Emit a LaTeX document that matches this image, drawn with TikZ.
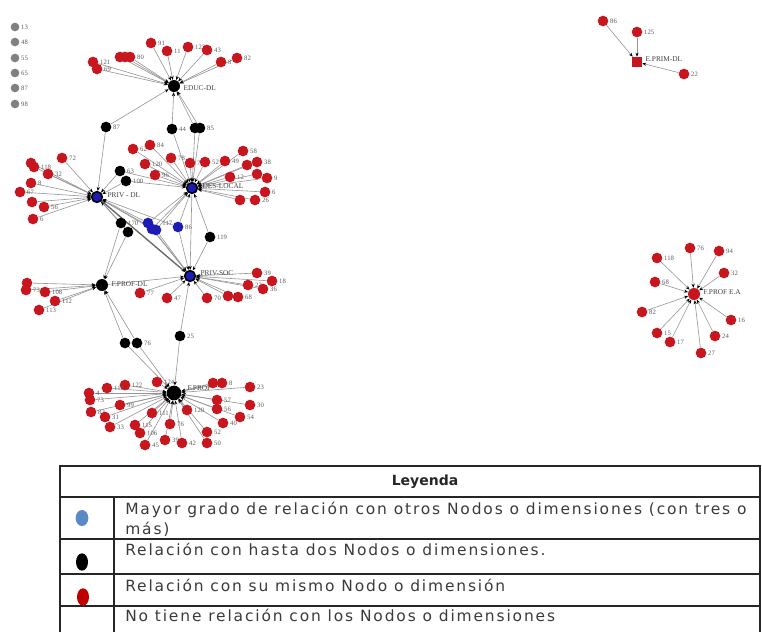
\documentclass[tikz,border=0pt]{standalone}
\usepackage{fontspec}
\setmainfont{DejaVu Sans}
\newfontfamily\legfont[LetterSpace=12]{DejaVu Sans}
\newfontfamily\labfont{Liberation Serif}
\usetikzlibrary{arrows.meta,backgrounds,shapes.geometric}
\definecolor{nred}{HTML}{C8161E}
\definecolor{nblue}{HTML}{1C1CB4}
\definecolor{ngrey}{HTML}{808080}
\definecolor{lblue}{HTML}{5A8AC6}
\definecolor{lred}{HTML}{C00000}
\definecolor{txt}{HTML}{3A3A3A}
\tikzset{
 leaf/.style={circle,fill=nred,inner sep=0pt,minimum size=8pt},
 blk/.style={circle,fill=black,inner sep=0pt,minimum size=8pt},
 blu/.style={circle,fill=nblue,inner sep=0pt,minimum size=8pt},
 gry/.style={circle,fill=ngrey,inner sep=0pt,minimum size=6.5pt},
 hubb/.style={circle,fill=black,inner sep=0pt,minimum size=9pt},
 hubblue/.style={circle,fill=nblue,draw=black,line width=1.2pt,inner sep=0pt,minimum size=8pt},
 lab/.style={font=\labfont\fontsize{5}{5}\selectfont,text=black!65,inner sep=1pt},
 hublab/.style={font=\labfont\fontsize{5.5}{5}\selectfont,text=black!75,anchor=west,inner sep=1pt},
 edge/.style={draw=black!42,line width=0.45pt,-{Stealth[length=3pt,width=2.4pt,color=black]}},
 tab/.style={draw=black!85,line width=0.9pt},
 legtext/.style={font=\legfont\fontsize{11.6}{12}\selectfont,text=txt,anchor=west,inner sep=0pt},
 legdot/.style={ellipse,inner sep=0pt,minimum width=9.5pt,minimum height=12pt},
}
\begin{document}
\begin{tikzpicture}[x=0.75pt,y=-0.75pt]
\useasboundingbox (0,0) rectangle (762,632);
% hubs
\node[hubb] (educ) at (174,86) {};
\node[hublab] (educl) at (182,88) {EDUC-DL};
\node[hubblue] (des) at (192,188) {};
\node[hublab] (desl) at (201,186) {DES-LOCAL};
\node[hubblue] (pdl) at (97,197) {};
\node[hublab] (pdll) at (106,195) {PRIV - DL};
\node[hubblue] (psoc) at (190,276) {};
\node[hublab] (psocl) at (199,273) {PRIV-SOC};
\node[hubb] (fpdl) at (102,285) {};
\node[hublab] (fpdll) at (110,284) {F.PROF-DL};
\node[hubb,minimum size=11pt] (fprof) at (174,393) {};
\node[hublab] (fprofl) at (186,388) {F.PROF};
\node[rectangle,fill=nred,inner sep=0pt,minimum size=7.5pt] (eprim) at (637,62) {};
\node[hublab] (epriml) at (644,59) {E.PRIM-DL};
\node[circle,fill=nred,inner sep=0pt,minimum size=9pt] (fpea) at (694,294) {};
\node[hublab] (fpeal) at (702,292) {F.PROF E.A};
% isolated grey nodes
\foreach \n/\y/\t in {g1/27/13,g2/42/48,g3/58/55,g4/73/65,g5/88/87,g6/104/98}
  \node[gry,label={[lab]0:\t}] (\n) at (15,\y) {};
% leaves of EDUC-DL
\foreach \n/\x/\y/\t in {e1/151/43/91,e2/167/51/11,e3/188/47/123,e4/207/50/43,e5/221/62/8,e6/237/58/82,e7/93/62/121,e8/97/69/69,e9/120/57/{},e10/125/57/{},e11/130/57/80}{
  \node[leaf,label={[lab]0:\t}] (\n) at (\x,\y) {};
  \begin{pgfonlayer}{background}\draw[edge] (\n) -- (educ);\end{pgfonlayer}}
% leaves of PRIV-DL
\foreach \n/\x/\y/\t in {p1/62/158/72,p2/31/163/{},p3/34/167/118,p4/48/174/32,p5/31/183/8,p6/20/192/67,p7/32/202/{},p8/44/207/56,p9/33/219/6}{
  \node[leaf,label={[lab]0:\t}] (\n) at (\x,\y) {};
  \begin{pgfonlayer}{background}\draw[edge] (\n) -- (pdl);\end{pgfonlayer}}
% leaves of DES-LOCAL
\foreach \n/\x/\y/\t in {d1/133/149/62,d2/150/145/84,d3/145/164/120,d4/171/158/78,d5/190/163/75,d6/155/175/96,d7/205/162/52,d8/225/161/49,d9/243/151/58,d10/247/165/{},d11/257/162/38,d12/230/177/12,d13/257/174/{},d14/267/178/9,d15/240/200/{},d16/255/200/26,d17/265/192/6}{
  \node[leaf,label={[lab]0:\t}] (\n) at (\x,\y) {};
  \begin{pgfonlayer}{background}\draw[edge] (\n) -- (des);\end{pgfonlayer}}
% leaves of PRIV-SOC
\foreach \n/\x/\y/\t in {s1/257/273/39,s2/248/285/22,s3/272/281/18,s4/263/289/36,s5/207/298/70,s6/228/296/{},s7/238/297/68,s8/167/298/47,s9/140/293/77}{
  \node[leaf,label={[lab]0:\t}] (\n) at (\x,\y) {};
  \begin{pgfonlayer}{background}\draw[edge] (\n) -- (psoc);\end{pgfonlayer}}
% leaves of F.PROF-DL
\foreach \n/\x/\y/\t in {f1/27/283/{},f2/26/290/73,f3/45/292/108,f4/55/301/112,f5/39/310/113}{
  \node[leaf,label={[lab]0:\t}] (\n) at (\x,\y) {};
  \begin{pgfonlayer}{background}\draw[edge] (\n) -- (fpdl);\end{pgfonlayer}}
% leaves of F.PROF
\foreach \n/\x/\y/\t in {h1/157/382/124,h2/125/385/122,h3/107/388/119,h4/89/393/4,h5/90/400/73,h6/120/405/99,h7/91/412/82,h8/105/417/31,h9/110/427/33,h10/152/413/111,h11/135/425/115,h12/140/433/106,h13/145/445/45,h14/165/440/39,h15/170/424/76,h16/182/443/42,h17/187/410/120,h18/207/432/52,h19/207/443/50,h20/223/423/40,h21/240/417/54,h22/217/400/57,h23/217/409/56,h24/213/383/{},h25/222/383/8,h26/250/387/23,h27/250/405/30}{
  \node[leaf,label={[lab]0:\t}] (\n) at (\x,\y) {};
  \begin{pgfonlayer}{background}\draw[edge] (\n) -- (fprof);\end{pgfonlayer}}
% leaves of E.PRIM-DL
\foreach \n/\x/\y/\t in {k1/603/21/86,k2/637/32/125,k3/684/74/22}{
  \node[leaf,label={[lab]0:\t}] (\n) at (\x,\y) {};
  \begin{pgfonlayer}{background}\draw[edge] (\n) -- (eprim);\end{pgfonlayer}}
% leaves of F.PROF E.A
\foreach \n/\x/\y/\t in {m1/690/248/76,m2/719/251/94,m3/657/258/118,m4/724/273/32,m5/655/282/68,m6/642/312/82,m7/731/320/16,m8/657/333/15,m9/670/342/17,m10/715/336/24,m11/701/353/27}{
  \node[leaf,label={[lab]0:\t}] (\n) at (\x,\y) {};
  \begin{pgfonlayer}{background}\draw[edge] (\n) -- (fpea);\end{pgfonlayer}}
% intermediate nodes
\node[blk,label={[lab]0:87}] (b87) at (106,127) {};
\node[blk,label={[lab]0:44}] (b44) at (172,129) {};
\node[blk] (b85a) at (195,128) {};
\node[blk,label={[lab]0:85}] (b85b) at (200,128) {};
\node[blk,label={[lab]0:63}] (b63) at (120,171) {};
\node[blk,label={[lab]0:100}] (b100) at (126,181) {};
\node[blk,label={[lab]0:170}] (b170) at (121,223) {};
\node[blk] (b170b) at (128,232) {};
\node[blu] (u117a) at (148,223) {};
\node[blu] (u117b) at (152,229) {};
\node[blu,label={[lab]30:117}] (u117c) at (156,230) {};
\node[blu,label={[lab]0:86}] (u86) at (178,227) {};
\node[blk,label={[lab]0:119}] (b119) at (210,237) {};
\node[blk] (b76a) at (125,343) {};
\node[blk,label={[lab]0:76}] (b76b) at (137,343) {};
\node[blk,label={[lab]0:25}] (b25) at (180,336) {};
\begin{pgfonlayer}{background}
\foreach \a/\b in {b87/educ,b87/pdl,b44/educ,b44/des,b85a/educ,b85a/des,b85b/educ,b85b/des,
  b63/pdl,b63/des,b100/pdl,b100/des,b170/pdl,b170/fpdl,b170b/pdl,b170b/fpdl,
  u117a/pdl,u117a/des,u117a/psoc,u117b/pdl,u117b/des,u117b/psoc,u117c/pdl,u117c/des,u117c/psoc,
  u86/des,u86/psoc,u86/pdl,b119/des,b119/psoc,b76a/fpdl,b76a/fprof,b76b/fpdl,b76b/fprof,b25/psoc,b25/fprof}
  \draw[edge] (\a) -- (\b);
\draw[edge,line width=1pt,draw=black!60] (pdl) -- (psoc);
\draw[edge] (fpdl) -- (psoc);
\draw[edge] (des) -- (psoc);
\end{pgfonlayer}
% legend table
\draw[tab] (60,632) -- (60,466) -- (760,466) -- (760,632);
\draw[tab] (60,497) -- (760,497);
\draw[tab] (60,539) -- (760,539);
\draw[tab] (60,574) -- (760,574);
\draw[tab] (60,606) -- (760,606);
\draw[tab] (114,497) -- (114,632);
\node[font=\bfseries\fontsize{10.5}{12}\selectfont,text=black!85] (ley) at (425,482) {Leyenda};
\node[legdot,fill=lblue] (dblue) at (82,518) {};
\node[legdot,fill=black,minimum width=9pt,minimum height=13pt] (dblack) at (82,562) {};
\node[legdot,fill=lred,minimum width=9pt,minimum height=13pt] (dred) at (83,597) {};
\node[legtext] (t1) at (125,510) {Mayor grado de relación con otros Nodos o dimensiones (con tres o};
\node[legtext] (t1b) at (125,529) {más)};
\node[legtext] (t2) at (125,549) {Relación con hasta dos Nodos o dimensiones.};
\node[legtext] (t3) at (125,585) {Relación con su mismo Nodo o dimensión};
\node[legtext] (t4) at (125,615) {No tiene relación con los Nodos o dimensiones};
\end{tikzpicture}
\end{document}
